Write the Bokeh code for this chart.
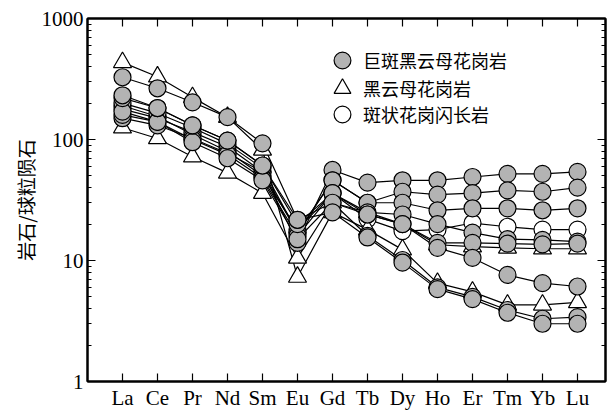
from bokeh.plotting import figure
from bokeh.models import (Range1d, FixedTicker, LogTicker, LogAxis, LinearAxis,
                          Legend, LegendItem)
from bokeh.embed import file_html
from bokeh.resources import INLINE

# ---- data ----
elements = ["La", "Ce", "Pr", "Nd", "Sm", "Eu", "Gd", "Tb", "Dy", "Ho", "Er", "Tm", "Yb", "Lu"]
y_ticks = [1, 10, 100, 1000]
y_tick_labels = ["1", "10", "100", "1000"]

# 巨斑黑云母花岗岩 (grey filled circles)
gb1 = [150, 131, 102, 77, 54, 14, 56, 44, 46, 46, 49, 52, 52, 54]
gb2 = [178, 150, 115, 87, 54, 17, 46, 30, 37, 35, 36, 38, 37, 40]
gb3 = [200, 165, 125, 92, 58, 17, 46, 30, 30, 26, 27, 27, 26, 27]
gb4 = [160, 140, 100, 75, 48, 16, 36, 25, 24, 20, 17, 15, 14.8, 14.3]
gb5 = [170, 140, 95, 70, 46, 15, 30, 24, 20, 14, 14, 13.8, 13.6, 13.8]
gb6 = [220, 182, 131, 98, 61, 20, 36, 24, 20, 12.7, 10.5, 7.6, 6.5, 6.1]
gb7 = [232, 182, 131, 98, 61, 21.7, 30, 16, 10.1, 6.0, 5.0, 3.9, 3.3, 3.4]
gb8 = [327, 265, 203, 153, 93, 21.7, 25, 15.5, 9.6, 5.8, 4.8, 3.7, 3.0, 3.0]

# 黑云母花岗岩 (open triangles)
bg1 = [434, 330, 223, 153, 82, 7.3, 25, 18, 12.3, 6.5, 5.5, 4.3, 4.3, 4.5]
bg2 = [125, 102, 72, 53, 36, 10.5, 30, 25, 20, 13.5, 13, 12.7, 12.5, 12.5]

# 斑状花岗闪长岩 (open circles)
pg1 = [190, 155, 110, 80, 50, 18, 36, 22, 17.5, 18, 20.4, 19, 18, 18]

label_gb = "巨斑黑云母花岗岩"
label_bg = "黑云母花岗岩"
label_pg = "斑状花岗闪长岩"
y_label = "岩石/球粒陨石"

x_idx = list(range(len(elements)))

p = figure(width=614, height=412, y_axis_type="log",
           x_range=Range1d(-1, 13.8), y_range=Range1d(1, 1000),
           output_backend="svg", toolbar_location=None,
           min_border_left=87, min_border_right=9, min_border_top=18, min_border_bottom=30)
p.background_fill_color = "white"
p.border_fill_color = "white"
p.xgrid.visible = False
p.ygrid.visible = False
p.outline_line_color = "black"
p.outline_line_width = 2

GREY = "#b3b3b3"

gb_series = [gb1, gb2, gb3, gb4, gb5, gb6, gb7, gb8]
bg_series = [bg1, bg2]
pg_series = [pg1]

for s in gb_series + bg_series + pg_series:
    p.line(x_idx, s, line_color="black", line_width=1.2)

r_pg = None
for s in pg_series:
    r_pg = p.scatter(x_idx, s, marker="circle", size=17, fill_color="white",
                     line_color="black", line_width=1.2)
r_bg = None
for s in bg_series:
    r_bg = p.scatter(x_idx, s, marker="triangle", size=18, fill_color="white",
                     line_color="black", line_width=1.2)
r_gb = None
for s in gb_series:
    r_gb = p.scatter(x_idx, s, marker="circle", size=17, fill_color=GREY,
                     line_color="black", line_width=1.2)

# axes styling
serif = "Liberation Serif"

xa = p.xaxis[0]
xa.ticker = FixedTicker(ticks=x_idx, minor_ticks=[])
xa.major_label_overrides = {i: e for i, e in enumerate(elements)}
ya = p.yaxis[0]
ya.ticker = LogTicker(num_minor_ticks=10)
ya.major_label_overrides = {t: l for t, l in zip(y_ticks, y_tick_labels)}
ya.axis_label = y_label
ya.axis_label_text_font = "Noto Sans CJK SC"
ya.axis_label_text_font_size = "19px"
ya.axis_label_text_font_style = "normal"
ya.axis_label_text_color = "black"
ya.axis_label_standoff = 0

for ax in (xa, ya):
    ax.major_label_text_font = serif
    ax.major_label_text_font_size = "21px"
    ax.major_label_text_color = "black"
    ax.major_label_standoff = 4

right_axis = LogAxis(ticker=LogTicker(num_minor_ticks=10),
                     major_label_overrides={t: "" for t in y_ticks})
top_axis = LinearAxis(ticker=FixedTicker(ticks=x_idx, minor_ticks=[]),
                      major_label_overrides={i: "" for i in x_idx})
p.add_layout(right_axis, "right")
p.add_layout(top_axis, "above")

for ax in (xa, ya, right_axis, top_axis):
    ax.axis_line_color = "black"
    ax.axis_line_width = 2
    ax.major_tick_in = 8
    ax.major_tick_out = 0
    ax.minor_tick_in = 4
    ax.minor_tick_out = 0
    ax.major_tick_line_color = "black"
    ax.minor_tick_line_color = "black"
    ax.major_tick_line_width = 1.2
    ax.minor_tick_line_width = 1
for ax in (right_axis, top_axis):
    ax.major_label_standoff = 0

# one legend box per entry, so the rows can sit as close as in the reference
legend_rows = [(label_gb, r_gb, 300), (label_bg, r_bg, 272), (label_pg, r_pg, 246)]
for lab, rend, ypos in legend_rows:
    lg = Legend(items=[LegendItem(label=lab, renderers=[rend])],
                location=(234, ypos), orientation="vertical")
    lg.glyph_width = 42
    lg.glyph_height = 42
    lg.spacing = 0
    lg.padding = 0
    lg.margin = 0
    lg.label_standoff = 0
    lg.label_text_font = "Noto Sans CJK SC"
    lg.label_text_font_size = "18px"
    lg.label_text_color = "black"
    lg.background_fill_alpha = 0
    lg.border_line_alpha = 0
    p.add_layout(lg, "center")

open("out.html", "w").write(file_html(p, INLINE))
